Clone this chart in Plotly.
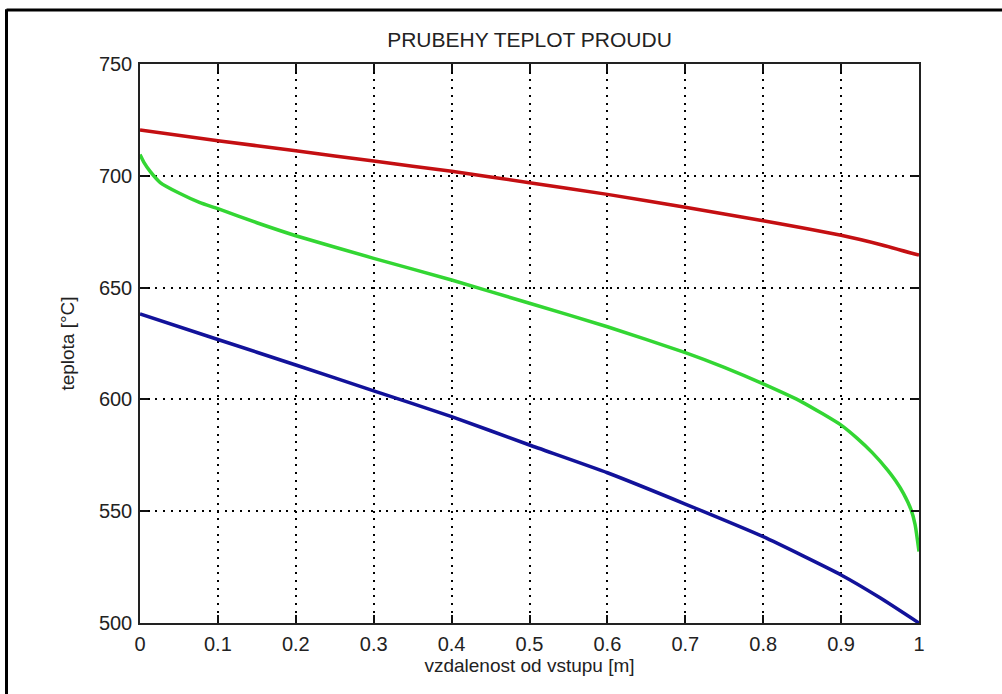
import plotly.graph_objects as go

# ---- data ----
x_red = [0.0, 0.1, 0.2, 0.3, 0.4, 0.5, 0.6, 0.7, 0.8, 0.9, 0.95, 1.0]
y_red = [720.5, 715.7, 711.2, 706.6, 702.0, 696.9, 691.7, 685.9, 679.9, 673.4, 669.3, 664.5]

x_green = [0.0, 0.005, 0.013, 0.026, 0.05, 0.077, 0.1, 0.15, 0.2, 0.3, 0.4, 0.5,
           0.6, 0.7, 0.75, 0.8, 0.85, 0.9, 0.92, 0.94, 0.96, 0.97, 0.98, 0.99, 0.995, 1.0]
y_green = [709.5, 706.0, 702.0, 697.0, 692.3, 688.0, 685.3, 679.0, 673.2, 663.1, 653.4, 643.0,
           632.5, 620.9, 614.3, 606.9, 598.8, 588.5, 582.8, 576.2, 568.3, 563.6, 558.0, 550.5, 544.0, 532.0]

x_blue = [0.0, 0.1, 0.2, 0.3, 0.4, 0.5, 0.6, 0.7, 0.8, 0.9, 0.95, 1.0]
y_blue = [638.2, 626.8, 615.4, 603.8, 592.3, 579.6, 567.2, 553.2, 538.6, 521.5, 511.3, 500.0]

x_ticks = [0, 0.1, 0.2, 0.3, 0.4, 0.5, 0.6, 0.7, 0.8, 0.9, 1]
x_tick_labels = ["0", "0.1", "0.2", "0.3", "0.4", "0.5", "0.6", "0.7", "0.8", "0.9", "1"]
y_ticks = [500, 550, 600, 650, 700, 750]

title_text = "PRUBEHY TEPLOT PROUDU"
x_title = "vzdalenost od vstupu [m]"
y_title = "teplota [°C]"

FONT = "Liberation Sans, Arial, sans-serif"

fig = go.Figure()
fig.add_trace(go.Scatter(x=x_red, y=y_red, mode="lines",
                         line=dict(color="#c40f12", width=3.5, shape="spline", smoothing=0.5),
                         showlegend=False))
fig.add_trace(go.Scatter(x=x_green, y=y_green, mode="lines",
                         line=dict(color="#33d633", width=3.5, shape="spline", smoothing=0.5),
                         showlegend=False))
fig.add_trace(go.Scatter(x=x_blue, y=y_blue, mode="lines",
                         line=dict(color="#12129a", width=3.5, shape="spline", smoothing=0.5),
                         showlegend=False))

L, R, T, B = 140, 83, 64, 71
W, H = 1002, 694
pw, ph = W - L - R, H - T - B

axis_common = dict(
    showline=True, linecolor="#222", linewidth=1.5, mirror="allticks",
    ticks="inside", ticklen=8, tickwidth=1.5, tickcolor="#111",
    showgrid=True, gridcolor="#000", gridwidth=1.5, griddash="2px,5.7px",
    zeroline=False,
    tickfont=dict(family=FONT, size=20, color="#222"),
)

fig.update_xaxes(range=[0, 1], tickvals=x_ticks, ticktext=x_tick_labels,
                 title=dict(text=x_title, font=dict(family=FONT, size=19, color="#222"), standoff=4),
                 ticklabelstandoff=2, **axis_common)
fig.update_yaxes(range=[500, 750], tickvals=y_ticks,
                 title=dict(text=y_title, font=dict(family=FONT, size=19, color="#222"), standoff=19),
                 ticklabelstandoff=2, **axis_common)

x_left = (6.5 - L) / pw
y_top = (H - B - 10) / ph
x_right = (W - L) / pw
y_bottom = -B / ph

fig.update_layout(
    width=W, height=H,
    margin=dict(l=L, r=R, t=T, b=B, autoexpand=False),
    paper_bgcolor="white", plot_bgcolor="white",
    title=dict(text=title_text, x=(L + pw / 2) / W, xanchor="center",
               y=1 - 39.5 / H, yanchor="middle", yref="container", xref="container",
               font=dict(family=FONT, size=21, color="#222")),
    shapes=[
        dict(type="line", xref="paper", yref="paper", x0=x_left, x1=x_right + 0.05,
             y0=y_top, y1=y_top, line=dict(color="black", width=3)),
        dict(type="line", xref="paper", yref="paper", x0=x_left, x1=x_left,
             y0=y_bottom - 0.05, y1=y_top + 0.0015, line=dict(color="black", width=3)),
    ],
)

fig.write_html("out.html")
